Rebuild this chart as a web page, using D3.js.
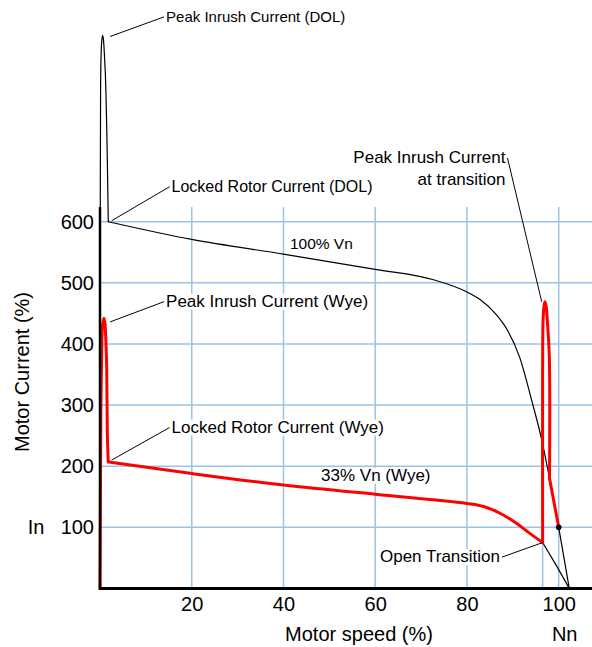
<!DOCTYPE html>
<html>
<head>
<meta charset="utf-8">
<script src="https://d3js.org/d3.v7.min.js"></script>
<style>
  body { margin: 0; background: #fff; }
  text { font-family: "Liberation Sans", Arial, sans-serif; fill: #000; }
</style>
</head>
<body>
<script>
// speed (%) , current (%)
var dolSpeed   = [0, 0.02, 0.06, 0.13, 0.25, 0.4, 0.58, 0.75, 0.95, 1.15, 1.3, 1.45, 1.6, 1.8, 20, 40, 60, 72.7, 80, 82.8, 86.5, 88.7, 91.5, 94.1, 96.3, 98.0, 100, 102.3];
var dolCurrent = [0, 300, 620, 822, 875, 897, 905, 898, 875, 845, 810, 760, 700, 600, 571, 547, 522, 505, 485, 473, 447, 424, 378, 308, 243, 180, 100, 0];

var wyeSpeed   = [0, 0.1, 0.2, 0.37, 0.55, 0.87, 1.1, 1.3, 1.46, 1.6, 1.8, 20, 40, 60, 72.7, 80, 83.6, 87.2, 90.8, 93.7, 96.5, 96.5, 96.6, 96.8, 97.0, 97.25, 97.5, 97.95, 98.0, 100];
var wyeCurrent = [0, 150, 300, 390, 430, 442, 432, 400, 363, 254, 207, 188, 169, 154, 145, 139, 134, 123, 106.5, 90, 75, 380, 440, 462, 469, 462, 440, 380, 180, 100];

// rest of the wye curve after the open transition
var wyeRestSpeed   = [96.5, 99.6, 102.3];
var wyeRestCurrent = [75, 36, 0];

var xTicks = [20, 40, 60, 80, 100];
var yTicks = [100, 200, 300, 400, 500, 600];
var transitionSpeed = 96.5, transitionCurrent = 75;
var ratedSpeed = 100, ratedCurrent = 100;

var W = 592, H = 647;
var x = d3.scaleLinear().domain([0, 100]).range([100, 558.7]);
var y = d3.scaleLinear().domain([0, 600]).range([588.4, 221.7]);
var yMax = 624;

var svg = d3.select("body").append("svg")
  .attr("width", W).attr("height", H);

var gridColor = "#9cc3e5";

// grid
svg.append("g").selectAll("line").data(yTicks).enter().append("line")
  .attr("x1", x(0)).attr("x2", W)
  .attr("y1", function (d) { return y(d); }).attr("y2", function (d) { return y(d); })
  .attr("stroke", gridColor).attr("stroke-width", 1.5);

svg.append("g").selectAll("line").data(xTicks).enter().append("line")
  .attr("x1", function (d) { return x(d); }).attr("x2", function (d) { return x(d); })
  .attr("y1", y(0)).attr("y2", y(yMax))
  .attr("stroke", gridColor).attr("stroke-width", 1.5);

// drop line at transition speed
svg.append("line")
  .attr("x1", x(transitionSpeed)).attr("x2", x(transitionSpeed))
  .attr("y1", y(0)).attr("y2", y(transitionCurrent))
  .attr("stroke", gridColor).attr("stroke-width", 1.5);

// tick labels
var yAxis = svg.append("g").attr("transform", "translate(" + (x(0) - 6) + ",0)")
  .call(d3.axisLeft(y).tickValues(yTicks).tickSize(0).tickPadding(0));
yAxis.select(".domain").remove();
yAxis.selectAll("text").style("font-size", "20px").attr("font-family", null);

var xAxis = svg.append("g").attr("transform", "translate(0," + (y(0) + 8) + ")")
  .call(d3.axisBottom(x).tickValues(xTicks).tickSize(0).tickPadding(0));
xAxis.select(".domain").remove();
xAxis.selectAll("text").style("font-size", "20px").attr("font-family", null);

// axis titles
svg.append("text").attr("x", 359).attr("y", 641).attr("text-anchor", "middle")
  .style("font-size", "20px").text("Motor speed (%)");
svg.append("text").attr("x", x(100) + 6).attr("y", 641).attr("text-anchor", "middle")
  .style("font-size", "20px").text("Nn");
svg.append("text").attr("transform", "translate(29,372) rotate(-90)")
  .attr("text-anchor", "middle").style("font-size", "20px").text("Motor Current (%)");
svg.append("text").attr("x", 36).attr("y", y(100) + 7).attr("text-anchor", "middle")
  .style("font-size", "20px").text("In");

// curves, drawn piece by piece so the corners stay sharp
function pairs(a, b) { return a.map(function (v, i) { return [v, b[i]]; }); }

function drawPieces(pts, pieces, color, width) {
  pieces.forEach(function (p) {
    var ln = d3.line()
      .x(function (d) { return x(d[0]); })
      .y(function (d) { return y(d[1]); })
      .curve(p[2]);
    svg.append("path").datum(pts.slice(p[0], p[1] + 1))
      .attr("d", ln).attr("fill", "none").attr("stroke", color).attr("stroke-width", width)
      .attr("stroke-linejoin", "round").attr("stroke-linecap", "round");
  });
}

var spike = d3.curveCatmullRom.alpha(0.5);
var run = d3.curveMonotoneX;

drawPieces(pairs(dolSpeed, dolCurrent), [[0, 13, spike], [13, 25, run], [25, 27, d3.curveLinear]], "#000", 1.2);
drawPieces(pairs(wyeRestSpeed, wyeRestCurrent), [[0, 2, d3.curveLinear]], "#000", 1.2);
drawPieces(pairs(wyeSpeed, wyeCurrent), [[0, 10, spike], [10, 20, run], [20, 28, spike], [28, 29, d3.curveLinear]], "#ff0000", 3);

svg.append("circle").attr("cx", x(ratedSpeed)).attr("cy", y(ratedCurrent)).attr("r", 2.8).attr("fill", "#000");

// axes lines
svg.append("line").attr("x1", x(0)).attr("x2", W).attr("y1", y(0)).attr("y2", y(0))
  .attr("stroke", "#000").attr("stroke-width", 3);
svg.append("line").attr("x1", x(0)).attr("x2", x(0)).attr("y1", y(0) + 1.5).attr("y2", y(yMax))
  .attr("stroke", "#000").attr("stroke-width", 2.5);

// annotations: text anchor (speed, current), leader target (speed, current)
var notes = [
  { t: ["Peak Inrush Current (DOL)"], at: [14.4, 927], to: [2.2, 903], anchor: "start", fs: 15 },
  { t: ["Locked Rotor Current (DOL)"], at: [15.6, 649], to: [2.55, 601.6], anchor: "start", fs: 16 },
  { t: ["Peak Inrush Current (Wye)"], at: [14.4, 461], to: [2.2, 436], anchor: "start", fs: 17 },
  { t: ["Locked Rotor Current (Wye)"], at: [15.6, 255], to: [2.55, 210], anchor: "start", fs: 17 },
  { t: ["100% Vn"], at: [41.4, 556], anchor: "start", fs: 15.5 },
  { t: ["33% Vn (Wye)"], at: [48.2, 176], anchor: "start", fs: 17 },
  { t: ["Open Transition"], at: [87.2, 43], to: [96.5, 75], anchor: "end", fs: 17 },
  { t: ["Peak Inrush Current", "at transition"], at: [88.4, 696], to: [96.3, 469], anchor: "end", fs: 17 }
];

notes.forEach(function (n) {
  var g = svg.append("g");
  var tx = x(n.at[0]), ty = y(n.at[1]);
  // one text per line, each with its own white box
  n.t.forEach(function (s, i) {
    var bg = g.append("rect").attr("fill", "#fff");
    var txt = g.append("text").attr("x", tx).attr("y", ty + i * 22)
      .attr("text-anchor", n.anchor).style("font-size", n.fs + "px").text(s);
    var b = txt.node().getBBox();
    bg.attr("x", b.x).attr("y", b.y + 2).attr("width", b.width).attr("height", b.height - 3);
  });
  if (n.to) {
    var sx = n.anchor === "start" ? tx - 2 : tx + 2;
    var sy = ty - 5;
    g.append("line").attr("x1", sx).attr("y1", sy)
      .attr("x2", x(n.to[0])).attr("y2", y(n.to[1]))
      .attr("stroke", "#000").attr("stroke-width", 1);
  }
});
</script>
</body>
</html>
